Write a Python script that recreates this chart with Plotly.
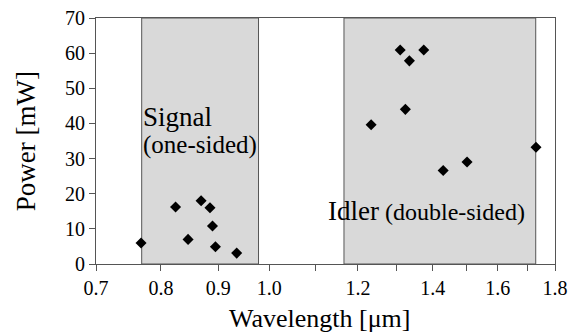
import plotly.graph_objects as go
import math

signal_x = [0.768, 0.8245, 0.846, 0.869, 0.885, 0.8896, 0.895, 0.935]
signal_y = [6.0, 16.2, 7.0, 18.0, 16.0, 10.8, 4.9, 3.1]
idler_x = [1.309, 1.334, 1.374, 1.323, 1.233, 1.430, 1.502, 1.731]
idler_y = [60.9, 57.8, 60.9, 44.0, 39.6, 26.6, 29.0, 33.2]

signal_band = [0.769, 0.978]
idler_band = [1.166, 1.730]
y_range = [0, 70]

x_tickvals = [0.7, 0.8, 0.9, 1.0, 1.1, 1.2, 1.3, 1.4, 1.5, 1.6, 1.7, 1.8]
x_ticktext = ["0.7", "0.8", "0.9", "1.0", "", "1.2", "", "1.4", "", "1.6", "", "1.8"]
y_tickvals = [0, 10, 20, 30, 40, 50, 60, 70]

FONT = "'Liberation Serif', 'Times New Roman', serif"
fig = go.Figure()

for band in (signal_band, idler_band):
    fig.add_trace(go.Scatter(
        x=[band[0], band[0], band[1], band[1], band[0]],
        y=[y_range[0], y_range[1], y_range[1], y_range[0], y_range[0]],
        mode="lines", fill="toself", fillcolor="#d9d9d9",
        line=dict(color="#555555", width=1), hoverinfo="skip", showlegend=False))

fig.add_trace(go.Scatter(x=signal_x + idler_x, y=signal_y + idler_y, mode="markers",
                         marker=dict(symbol="diamond", size=8.5, color="black"),
                         showlegend=False))

fig.update_layout(
    width=577, height=335,
    margin=dict(l=88, r=30, t=10, b=79),
    paper_bgcolor="white", plot_bgcolor="white",
    font=dict(family=FONT, size=20, color="black"),
    showlegend=False,
    annotations=[
        dict(xref="paper", yref="paper", x=0.098, y=0.598, xanchor="left", yanchor="middle",
             text="Signal", showarrow=False, font=dict(size=27, family=FONT)),
        dict(xref="paper", yref="paper", x=0.098, y=0.482, xanchor="left", yanchor="middle",
             text="(one-sided)", showarrow=False, font=dict(size=25, family=FONT)),
        dict(xref="paper", yref="paper", x=0.500, y=0.215, xanchor="left", yanchor="middle",
             text="<span style='font-size:27px'>Idler</span> (double-sided)", showarrow=False,
             font=dict(size=24, family=FONT)),
        dict(xref="paper", yref="paper", x=0.487, y=-0.222, xanchor="center", yanchor="middle",
             text="Wavelength [μm]", showarrow=False, font=dict(size=26, family=FONT)),
        dict(xref="paper", yref="paper", x=-0.152, y=0.5, xanchor="center", yanchor="middle",
             text="Power [mW]", textangle=-90, showarrow=False, font=dict(size=27, family=FONT)),
    ],
)
fig.update_xaxes(type="log", range=[math.log10(0.7), math.log10(1.8)], automargin=False,
                 tickvals=x_tickvals, ticktext=x_ticktext, ticks="outside", ticklen=6,
                 tickcolor="#555", showline=True, linecolor="#555", linewidth=1, mirror=True,
                 showgrid=False, zeroline=False, ticklabeloverflow="allow",
                 tickfont=dict(size=20, family=FONT))
fig.update_yaxes(range=y_range, tickvals=y_tickvals, ticks="outside", ticklen=6, automargin=False,
                 tickcolor="#555", showline=True, linecolor="#555", linewidth=1, mirror=True,
                 showgrid=False, zeroline=False, ticklabeloverflow="allow",
                 tickfont=dict(size=20, family=FONT))

fig.write_html("out.html")
